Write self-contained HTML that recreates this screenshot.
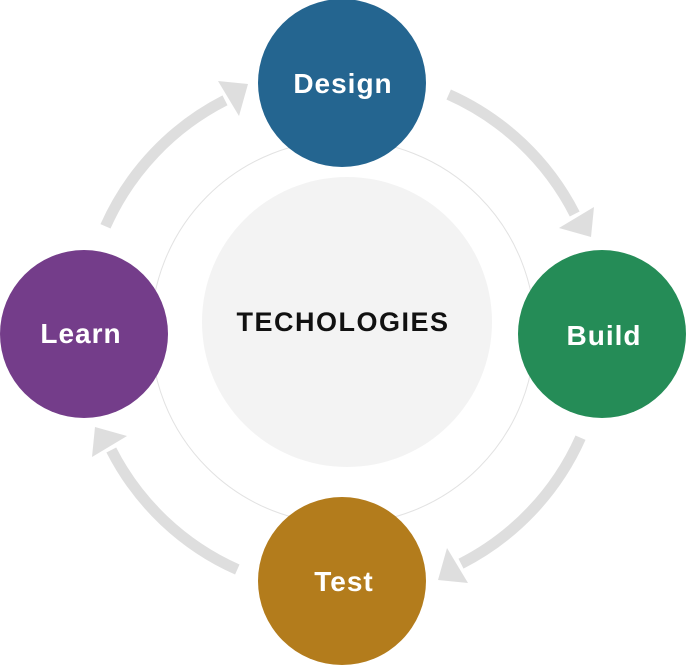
<!DOCTYPE html>
<html><head><style>
body{margin:0;background:#fff;}
svg{display:block;font-family:"Liberation Sans",sans-serif;font-weight:bold;}
</style></head><body>
<svg width="686" height="665" viewBox="0 0 686 665">
<circle cx="343" cy="332" r="192" fill="none" stroke="#e2e2e2" stroke-width="1"/>
<circle cx="347" cy="322" r="145" fill="#f3f3f3"/>
<defs>
<g id="arr">
<path d="M448.7 94.5 A260 260 0 0 1 574.7 214" fill="none" stroke="#dedede" stroke-width="11"/>
<polygon points="591,237 559,228 594,207" fill="#dedede"/>
</g>
</defs>
<use href="#arr"/>
<use href="#arr" transform="rotate(90 343 332)"/>
<use href="#arr" transform="rotate(180 343 332)"/>
<use href="#arr" transform="rotate(270 343 332)"/>
<circle cx="342" cy="83" r="84" fill="#246590"/>
<circle cx="602" cy="334" r="84" fill="#258c57"/>
<circle cx="342" cy="581" r="84" fill="#b37c1c"/>
<circle cx="84" cy="334" r="84" fill="#743d8a"/>
<g fill="#fff" font-size="28" text-anchor="middle" letter-spacing="1">
<text x="343" y="93">Design</text>
<text x="604" y="345">Build</text>
<text x="344" y="591">Test</text>
<text x="81" y="343">Learn</text>
</g>
<text x="343" y="331" font-size="27" text-anchor="middle" fill="#111" letter-spacing="1.5">TECHOLOGIES</text>
</svg>
</body></html>
